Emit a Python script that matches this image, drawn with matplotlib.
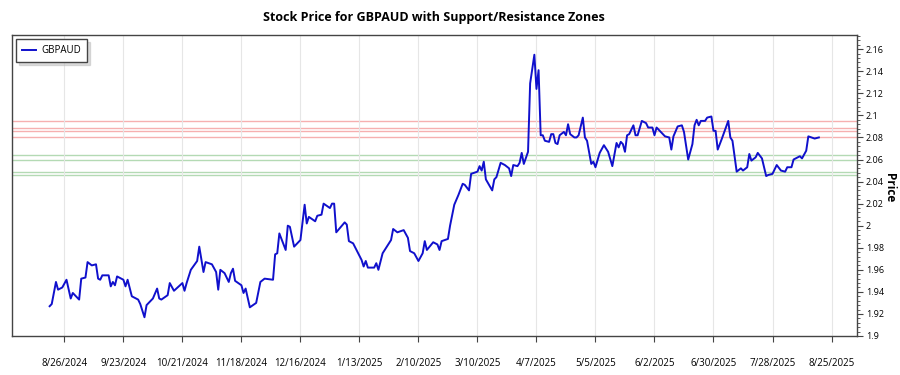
import pandas as pd
import numpy as np
import matplotlib
matplotlib.use("Agg")
import matplotlib.pyplot as plt
from matplotlib.ticker import MultipleLocator, FuncFormatter

plt.rcParams['font.family'] = ['Open Sans', 'DejaVu Sans']

symbol = "GBPAUD"
start = pd.Timestamp("2024-08-19")

# days since start
days = [0, 1, 3, 4, 6, 8, 10, 11, 14, 15,
        17, 18, 20, 22, 23, 24, 25, 28, 29, 30,
        31, 32, 35, 36, 37, 39, 42, 43, 45, 46,
        49, 51, 52, 53, 56, 57, 59, 63, 64, 65,
        67, 70, 71, 73, 74, 77, 79, 80, 81, 83,
        85, 86, 87, 88, 91, 92, 93, 95, 98, 100,
        102, 106, 107, 108, 109, 112, 113, 114, 116, 119,
        121, 122, 123, 126, 127, 129, 130, 133, 134, 135,
        136, 140, 141, 142, 144, 148, 149, 150, 151, 154,
        155, 156, 158, 162, 163, 165, 168, 170, 171, 173,
        175, 177, 178, 179, 182, 184, 185, 186, 189, 190,
        192, 194, 196, 197, 199, 200, 203, 204, 205, 206,
        207, 210, 211, 212, 214, 216, 218, 219, 220, 222,
        223, 224, 225, 227, 228, 230, 231, 232, 233, 234,
        235, 237, 238, 239, 240, 241, 242, 244, 245, 246,
        247, 249, 250, 251, 253, 254, 255, 257, 258, 259,
        261, 263, 265, 267, 269, 270, 271, 272, 273, 274,
        275, 277, 278, 279, 281, 283, 284, 286, 287, 288,
        290, 292, 294, 295, 296, 298, 300, 301, 303, 305,
        306, 307, 308, 309, 311, 312, 314, 315, 316, 317,
        319, 322, 323, 324, 326, 328, 329, 331, 332, 333,
        335, 336, 338, 340, 341, 343, 345, 347, 349, 350,
        352, 353, 356, 357, 359, 360, 363, 365]

prices = [1.927, 1.929, 1.949, 1.942, 1.944, 1.951, 1.934, 1.939, 1.933, 1.952,
          1.953, 1.967, 1.964, 1.965, 1.952, 1.951, 1.955, 1.955, 1.945, 1.949,
          1.946, 1.954, 1.951, 1.945, 1.951, 1.936, 1.933, 1.929, 1.917, 1.928,
          1.934, 1.943, 1.934, 1.933, 1.937, 1.948, 1.941, 1.948, 1.941, 1.948,
          1.960, 1.968, 1.981, 1.958, 1.967, 1.965, 1.958, 1.942, 1.960, 1.957,
          1.949, 1.957, 1.961, 1.950, 1.946, 1.939, 1.943, 1.926, 1.930, 1.949,
          1.952, 1.951, 1.974, 1.975, 1.993, 1.978, 2.000, 1.999, 1.981, 1.987,
          2.019, 2.002, 2.008, 2.004, 2.009, 2.010, 2.020, 2.016, 2.020, 2.020,
          1.994, 2.003, 2.001, 1.986, 1.984, 1.969, 1.963, 1.968, 1.962, 1.962,
          1.966, 1.960, 1.975, 1.987, 1.997, 1.994, 1.996, 1.989, 1.977, 1.975,
          1.968, 1.975, 1.986, 1.978, 1.985, 1.983, 1.978, 1.986, 1.988, 2.000,
          2.019, 2.028, 2.038, 2.037, 2.032, 2.047, 2.049, 2.054, 2.050, 2.058,
          2.042, 2.032, 2.042, 2.044, 2.057, 2.055, 2.052, 2.045, 2.055, 2.054,
          2.057, 2.066, 2.056, 2.067, 2.129, 2.155, 2.124, 2.141, 2.082, 2.082,
          2.077, 2.076, 2.083, 2.083, 2.075, 2.074, 2.082, 2.085, 2.082, 2.092,
          2.083, 2.080, 2.080, 2.082, 2.098, 2.080, 2.077, 2.056, 2.058, 2.053,
          2.066, 2.073, 2.067, 2.054, 2.075, 2.071, 2.076, 2.074, 2.067, 2.082,
          2.083, 2.091, 2.082, 2.082, 2.095, 2.093, 2.089, 2.089, 2.082, 2.089,
          2.085, 2.081, 2.080, 2.069, 2.081, 2.090, 2.091, 2.085, 2.060, 2.074,
          2.091, 2.096, 2.091, 2.095, 2.095, 2.098, 2.099, 2.086, 2.086, 2.069,
          2.079, 2.095, 2.080, 2.077, 2.049, 2.052, 2.050, 2.053, 2.065, 2.059,
          2.062, 2.066, 2.061, 2.045, 2.046, 2.047, 2.055, 2.050, 2.049, 2.053,
          2.053, 2.060, 2.063, 2.061, 2.068, 2.081, 2.079, 2.080]

resistance = [2.080, 2.086, 2.089, 2.095]
support = [2.046, 2.049, 2.060, 2.064]

assert len(days) == len(prices)
dates = start + pd.to_timedelta(days, unit="D")

fig, ax = plt.subplots(figsize=(9, 3.75), dpi=100)
fig.subplots_adjust(left=0.013, right=0.952, bottom=0.104, top=0.907)

# zones
for lvl in resistance:
    ax.axhline(lvl, color="#f6b0b0", lw=1.0, zorder=1)
for lvl in support:
    ax.axhline(lvl, color="#b4dab4", lw=1.0, zorder=1)

ax.plot(dates, prices, color="#1010cc", lw=1.4, label=symbol, zorder=3)

# x axis
ticks = pd.date_range("2024-08-26", periods=14, freq="28D")
ax.set_xticks(ticks)
ax.set_xticklabels([f"{t.month}/{t.day}/{t.year}" for t in ticks])
ax.set_xlim(pd.Timestamp("2024-08-01"), pd.Timestamp("2025-09-06"))
ax.grid(axis="x", color="#e6e6e6", lw=0.8, zorder=0)
ax.tick_params(axis="x", pad=12, length=4, labelsize=7, color="#444444")

# y axis on right
ax.set_ylim(1.9, 2.173)
ax.yaxis.tick_right()
ax.yaxis.set_major_locator(MultipleLocator(0.02))
ax.yaxis.set_minor_locator(MultipleLocator(0.004))
ax.yaxis.set_major_formatter(FuncFormatter(lambda v, p: f"{v:.2f}".rstrip("0").rstrip(".")))
ax.tick_params(axis="y", which="major", length=4, pad=2.5, labelsize=6.5, color="#444444")
ax.tick_params(axis="y", which="minor", length=2, color="#444444")
fig.text(0.988, 0.5, "Price", rotation=270, ha="center", va="center",
         fontweight="bold", fontsize=8.5)

for s in ax.spines.values():
    s.set_color("#444444")
    s.set_linewidth(1.0)

ax.set_title("Stock Price for GBPAUD with Support/Resistance Zones",
             fontweight="bold", fontsize=9, pad=10)

leg = ax.legend(loc="upper left", fancybox=False, fontsize=7,
                shadow={"color": "#bbbbbb", "ox": 2, "oy": -2},
                edgecolor="#444444", handlelength=1.4, handletextpad=0.6,
                borderpad=0.6, borderaxespad=0.45)
leg.get_frame().set_linewidth(1.0)

fig.savefig("out.png", dpi=100)
